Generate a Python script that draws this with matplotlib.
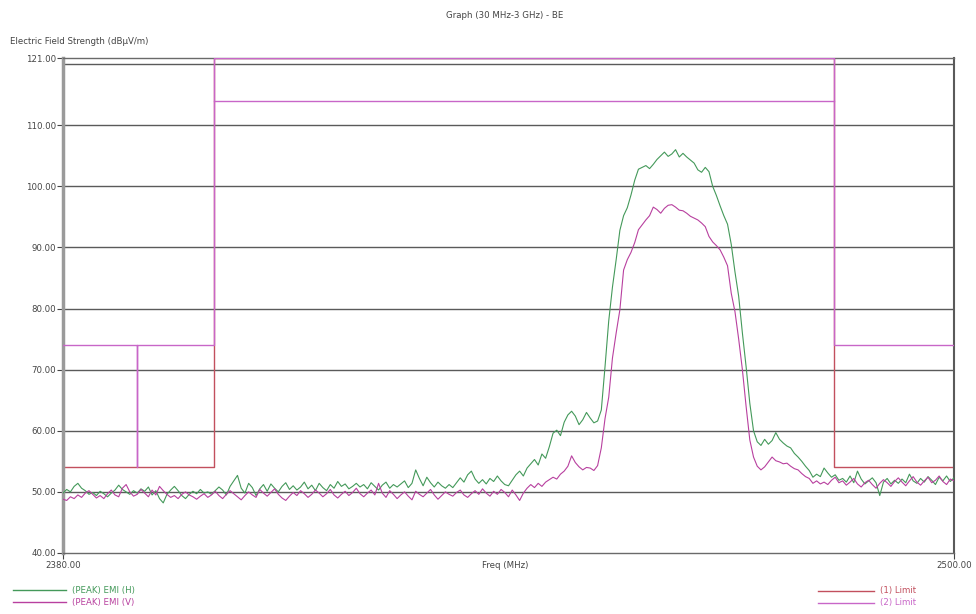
import numpy as np
import matplotlib
matplotlib.use("Agg")
import matplotlib.pyplot as plt
from matplotlib.lines import Line2D

# ---------------- data ----------------
f_start, f_step = 2380.0, 0.5

emi_h = [
    49.8, 50.4, 50.0, 50.9, 51.4, 50.6, 50.2, 49.6, 49.9, 49.4,
    50.1, 49.7, 49.2, 49.8, 50.3, 51.1, 50.4, 50.0, 49.6, 50.2,
    49.8, 50.5, 50.1, 50.8, 49.5, 50.2, 48.9, 48.2, 49.6, 50.3,
    50.9, 50.2, 49.4, 48.9, 49.6, 50.1, 49.7, 50.4, 49.8, 50.0,
    49.6, 50.2, 50.8, 50.3, 49.5, 50.9, 51.8, 52.7, 50.6, 49.8,
    51.4, 50.7, 49.4, 50.5, 51.2, 50.1, 51.3, 50.6, 50.0, 50.9,
    51.5, 50.4, 51.0, 50.3, 50.8, 51.6, 50.5, 51.1, 50.2, 51.4,
    50.7, 50.2, 51.2, 50.6, 51.7, 50.9, 51.3, 50.5, 50.9, 51.4,
    50.8, 51.2, 50.5, 51.5, 50.9, 50.3, 51.1, 51.6, 50.6, 51.2,
    50.8, 51.3, 51.8, 50.7, 51.4, 53.6, 52.2, 51.0, 52.4, 51.5,
    50.8, 51.6, 51.0, 50.6, 51.2, 50.7, 51.5, 52.3, 51.6, 52.8,
    53.4, 52.1, 51.4, 52.0, 51.3, 52.2, 51.7, 52.6, 51.8, 51.2,
    51.0, 51.9, 52.8, 53.4, 52.6, 53.9, 54.6, 55.3, 54.4, 56.2,
    55.5, 57.4, 59.6, 60.1, 59.2, 61.4, 62.6, 63.2, 62.4, 61.0,
    61.8, 63.0, 62.1, 61.3, 61.6, 63.4, 70.5, 78.0, 83.5, 88.0,
    92.8, 95.2, 96.5, 98.6, 101.0, 102.8, 103.1, 103.4, 102.9, 103.6,
    104.4, 105.0, 105.6, 104.9, 105.3, 106.0, 104.8, 105.4, 104.8, 104.3,
    103.8, 102.7, 102.3, 103.1, 102.4, 100.0, 98.5, 96.8, 95.2, 93.8,
    90.5, 86.0, 82.0, 76.0, 70.5, 64.5, 60.0, 58.2, 57.6, 58.6,
    57.8, 58.4, 59.7, 58.6, 58.0, 57.5, 57.2, 56.3, 55.7, 55.0,
    54.2, 53.5, 52.4, 52.9, 52.5, 53.9, 53.1, 52.4, 52.8, 51.9,
    52.2, 51.6, 52.6, 51.5, 53.4, 52.1, 51.3, 51.8, 52.3, 51.5,
    49.4, 51.6, 52.2, 51.3, 51.9, 51.4, 52.1, 51.5, 52.9, 51.8,
    51.4, 52.2, 51.6, 52.5, 51.9, 51.2, 52.4, 51.8, 52.6, 51.7,
    52.3,
]

emi_v = [
    48.8, 48.6, 49.2, 48.9, 49.5, 49.1, 49.8, 50.2, 49.6, 49.0,
    49.4, 48.9, 49.7, 50.3, 49.5, 49.2, 50.6, 51.2, 50.0, 49.3,
    49.6, 50.4, 49.8, 49.2, 50.3, 49.5, 50.9, 50.2, 49.6, 49.1,
    49.4, 48.9, 49.6, 50.0, 49.5, 49.2, 48.8, 49.3, 49.7, 49.1,
    49.5, 50.1, 49.4, 48.9, 49.6, 50.2, 49.7, 49.2, 48.7, 49.4,
    50.0, 49.5, 49.1, 50.4, 49.8, 49.3, 49.9, 50.5, 49.6, 49.0,
    48.6, 49.3, 49.9, 49.4, 50.2, 49.7, 49.1, 49.6, 50.3, 49.8,
    49.2, 49.7, 50.4, 49.5, 49.0, 49.6, 50.1, 49.4, 49.9, 50.6,
    49.7, 49.2, 49.8, 50.3, 49.5, 51.4, 49.8, 49.1, 50.2, 49.6,
    48.9, 49.5, 50.0, 49.3, 48.7, 50.1, 49.6, 49.2, 49.8, 50.4,
    49.5, 48.8, 49.4, 50.0, 49.6, 49.3, 49.9, 50.3, 49.5, 49.1,
    49.7, 50.2, 49.6, 50.5, 49.8, 49.3, 50.1, 49.6, 50.4, 49.9,
    49.2, 50.3, 49.5, 48.6, 49.8, 50.6, 51.2, 50.7, 51.4, 50.9,
    51.6, 52.0, 52.4, 52.1, 52.9, 53.4, 54.2, 55.9, 54.8, 54.1,
    53.6, 54.0, 53.9, 53.5, 54.3, 57.2, 62.0, 65.5, 71.9, 76.0,
    79.8, 86.3, 88.0, 89.2, 90.8, 92.9, 93.7, 94.5, 95.2, 96.6,
    96.2, 95.6, 96.4, 96.9, 97.0, 96.6, 96.1, 96.0, 95.6, 95.1,
    94.8, 94.5, 94.0, 93.4, 91.8, 90.9, 90.3, 89.6, 88.4, 87.0,
    82.5, 79.5, 75.0, 70.0, 64.0, 58.5, 55.7, 54.2, 53.6, 54.1,
    54.9, 55.7, 55.1, 54.9, 54.6, 54.7, 54.2, 53.8, 53.6, 53.0,
    52.5, 52.2, 51.4, 51.8, 51.3, 51.6, 51.2, 51.9, 52.4, 51.5,
    51.8, 51.1, 51.6, 52.2, 51.3, 50.8, 51.5, 51.9, 51.2, 50.6,
    51.4, 52.0, 51.5, 50.9, 51.7, 52.3, 51.6, 51.0, 51.8, 52.5,
    51.6, 51.1, 51.8, 52.4, 51.5, 51.9, 52.6, 51.7, 51.2, 52.1,
    51.8,
]

limit1_freq = [2380, 2400.4, 2400.4, 2483.8, 2483.8, 2500]
limit1_vals = [54, 54, 121, 121, 54, 54]

limit2_freq = [2380, 2390, 2390, 2390, 2400.4, 2400.4, 2483.8, 2483.8, 2500]
limit2_vals = [74, 74, 54, 74, 74, 121, 121, 74, 74]
limit2_inner_freq = [2400.4, 2483.8]
limit2_inner_vals = [114, 114]

ytick_vals = [40, 50, 60, 70, 80, 90, 100, 110, 121]
grid_vals = [50, 60, 70, 80, 90, 100, 110, 120]
xtick_vals = [2380, 2500]

series_labels = ["(PEAK) EMI (H)", "(PEAK) EMI (V)"]
limit_labels = ["(1) Limit", "(2) Limit"]

# ---------------- style ----------------
C_H = "#44995a"
C_V = "#b8409f"
C_L1 = "#c2505e"
C_L2 = "#c866c8"
C_GRID = "#5a5a5a"
C_TXT = "#444444"
FS = 6.2

plt.rcParams["font.family"] = ["DejaVu Sans"]

W, H = 976, 614
fig = plt.figure(figsize=(W / 100, H / 100), dpi=100)
fig.patch.set_facecolor("white")
ax = fig.add_axes([63 / W, 1 - 553 / H, (954 - 63) / W, (553 - 58) / H])

freq_h = f_start + f_step * np.arange(len(emi_h))
freq_v = f_start + f_step * np.arange(len(emi_v))

for g in grid_vals:
    ax.axhline(g, color=C_GRID, lw=1.0, zorder=1)

ax.plot(limit1_freq, limit1_vals, color=C_L1, lw=1.0, zorder=2)
ax.plot(limit2_freq, limit2_vals, color=C_L2, lw=1.0, zorder=3)
ax.plot(limit2_inner_freq, limit2_inner_vals, color=C_L2, lw=1.0, zorder=3)

ax.plot(freq_h, emi_h, color=C_H, lw=0.8, zorder=4)
ax.plot(freq_v, emi_v, color=C_V, lw=0.8, zorder=5)

ax.set_xlim(2380, 2500)
ax.set_ylim(40, 121)
ax.set_yticks(ytick_vals)
ax.set_yticklabels([f"{v:.2f}" for v in ytick_vals])
ax.set_xticks(xtick_vals)
ax.set_xticklabels([f"{v:.2f}" for v in xtick_vals])
ax.tick_params(axis="both", labelsize=FS, colors=C_TXT, length=4, width=0.8, pad=1)
ax.tick_params(axis="x", pad=2)

for side in ["top", "bottom"]:
    ax.spines[side].set_color("#6a6a6a")
    ax.spines[side].set_linewidth(1.0)
ax.spines["left"].set_color("#9a9a9a")
ax.spines["left"].set_linewidth(2.5)
ax.spines["right"].set_color("#5a5a5a")
ax.spines["right"].set_linewidth(1.5)

fig.text(505 / W, 1 - 15 / H, "Graph (30 MHz-3 GHz) - BE", ha="center", va="center",
         fontsize=FS, color=C_TXT)
fig.text(10 / W, 1 - 41 / H, "Electric Field Strength (dB\u00b5V/m)", ha="left", va="center",
         fontsize=FS, color=C_TXT)
fig.text(505 / W, 1 - 565 / H, "Freq (MHz)", ha="center", va="center",
         fontsize=FS, color=C_TXT)

# legends
def legend_entry(x0, x1, y, color, label):
    fig.add_artist(Line2D([x0 / W, x1 / W], [1 - y / H, 1 - y / H], color=color, lw=1.0,
                          transform=fig.transFigure))
    fig.text((x1 + 6) / W, 1 - y / H, label, ha="left", va="center", fontsize=FS, color=color)

legend_entry(13, 66, 590, C_H, series_labels[0])
legend_entry(13, 66, 602, C_V, series_labels[1])
legend_entry(818, 874, 591, C_L1, limit_labels[0])
legend_entry(818, 874, 603, C_L2, limit_labels[1])

fig.savefig("out.png", dpi=100, facecolor="white")
